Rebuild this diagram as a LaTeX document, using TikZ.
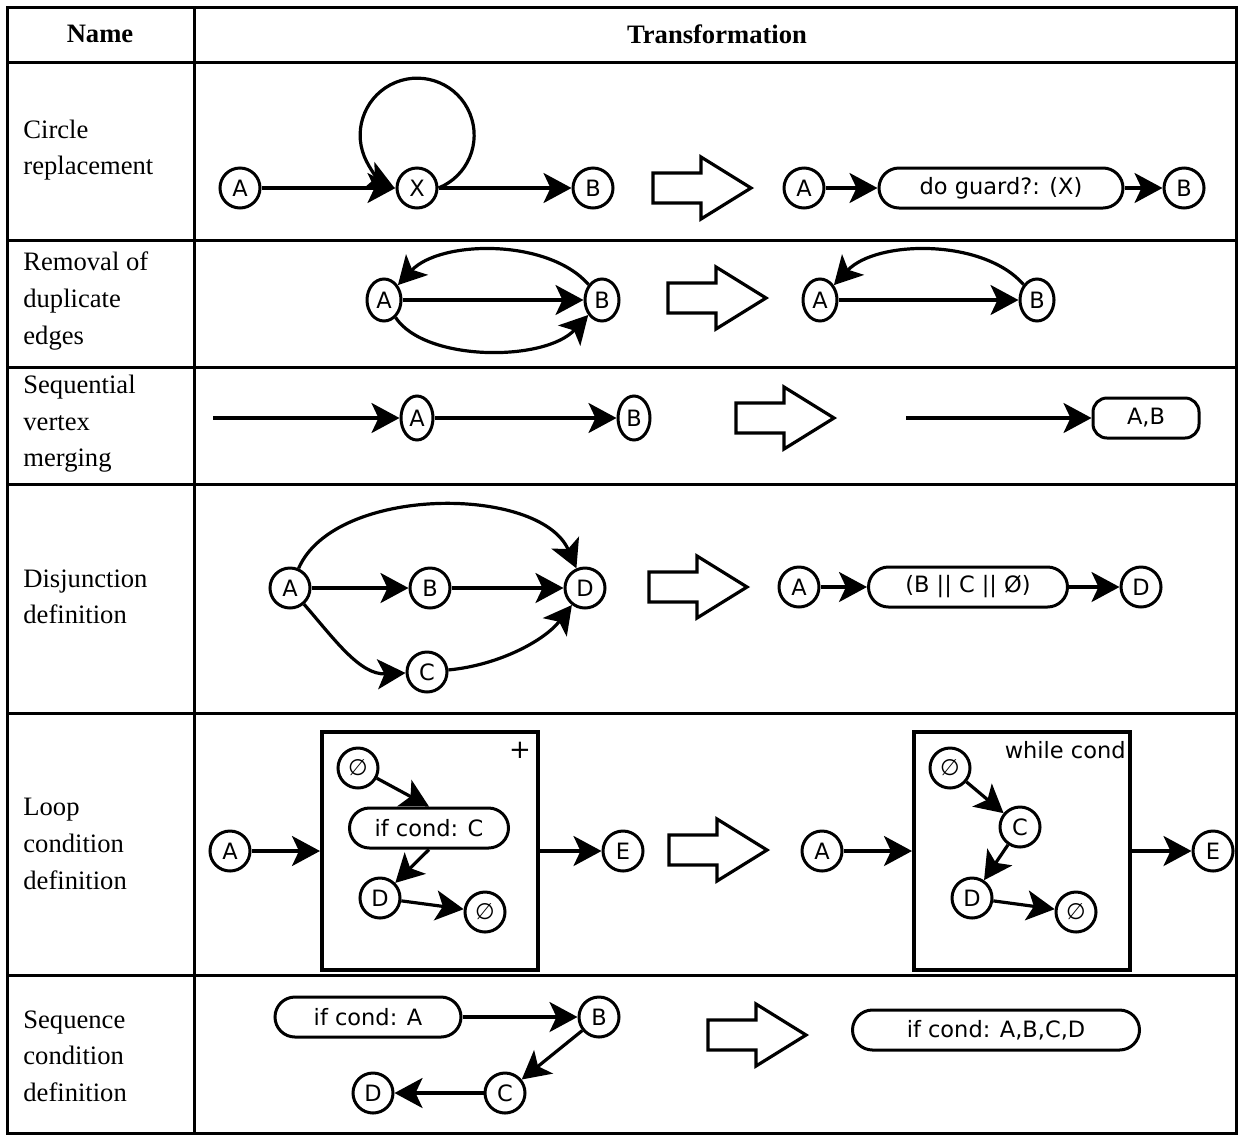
\documentclass[tikz,border=0pt]{standalone}
\usepackage{fontspec}
\setmainfont{Liberation Serif}
\newfontfamily\diafont{DejaVu Sans}
\usetikzlibrary{arrows.meta,positioning,calc,shapes.geometric}
\def\rewrite(#1){\draw[hollow] (#1) ++(-48,-15) -- ++(48,0) -- ++(0,-16) -- ++(50,31) -- ++(-50,31) -- ++(0,-16) -- ++(-48,0) -- cycle;}
\tikzset{
  vertex/.style={circle,draw,line width=1.5pt,minimum size=20pt,inner sep=0pt,font=\diafont\fontsize{11.25}{13}\selectfont},
  oval/.style={vertex,ellipse,minimum width=17pt,minimum height=21pt},
  pill/.style={rectangle,rounded corners=10pt,draw,line width=1.5pt,minimum height=20pt,inner sep=0pt,font=\diafont\fontsize{11.25}{13}\selectfont},
  link/.style={line width=1.6pt,-{Stealth[length=14pt,width=15pt,inset=3.5pt]}},
  hollow/.style={line width=1.6pt,line join=miter},
  rule/.style={line width=1.5pt},
  cell/.style={anchor=west,align=left,inner sep=0pt,font=\fontsize{13.3}{18.3}\selectfont},
  head/.style={inner sep=0pt,font=\bfseries\fontsize{13.3}{18.3}\selectfont},
  loopbox/.style={draw,line width=2pt,minimum width=108pt,minimum height=119pt,inner sep=0pt},
  tag/.style={inner sep=0pt,font=\diafont\fontsize{11.25}{13}\selectfont}
}

\begin{document}
\begin{tikzpicture}[x=0.5pt,y=-0.5pt]
    \useasboundingbox (0,0) rectangle (1241,1136);
    \fill[white] (0,0) rectangle (1241,1136);
    \draw[rule] (7,7) rectangle (1236,1133);
    \draw[rule] (194,7) -- (194,1133);
    \foreach \y in {62,240,367,484,713,975} \draw[rule] (7,\y) -- (1236,\y);
    \node[head] (hname) at (100,34) {Name};
    \node[head] (htrans) at (717,34) {Transformation};
    \node[cell] (n1) at (23,150) {Circle\\replacement};
    \node[cell] (n2) at (23,301) {Removal of\\duplicate\\edges};
    \node[cell] (n3) at (23,424) {Sequential\\vertex\\merging};
    \node[cell] (n4) at (23,597) {Disjunction\\definition};
    \node[cell] (n5) at (23,844) {Loop\\condition\\definition};
    \node[cell] (n6) at (23,1056) {Sequence\\condition\\definition};

    \node[vertex] (a1) at (240,188) {A};
    \node[vertex] (x1) at (417,188) {X};
    \node[vertex] (b1) at (593,188) {B};
    \draw[link] (a1) -- (x1);
    \draw[link] (x1) -- (b1);
    \draw[link] (x1.east) arc[start angle=-68, end angle=246, radius=28.5pt];
    \rewrite(701,188)
    \node[vertex] (a1r) at (804,188) {A};
    \node[pill,minimum width=122pt] (g1) at (1001,188) {do guard?: (X)};
    \node[vertex] (b1r) at (1184,188) {B};
    \draw[link] (a1r) -- (g1);
    \draw[link] (g1) -- (b1r);

    \node[oval] (a2) at (384,300) {A};
    \node[oval] (b2) at (602,300) {B};
    \draw[link] (a2) -- (b2);
    \draw[link] (b2) .. controls (548,238) and (440,240) .. (a2);
    \draw[link] (a2) .. controls (425,362) and (545,362) .. (b2);
    \rewrite(716,298)
    \node[oval] (a2r) at (820,300) {A};
    \node[oval] (b2r) at (1037,300) {B};
    \draw[link] (a2r) -- (b2r);
    \draw[link] (b2r) .. controls (983,238) and (876,240) .. (a2r);

    \coordinate (in3) at (213,418);
    \node[oval,minimum width=16pt,minimum height=22pt] (a3) at (417,418) {A};
    \node[oval,minimum width=16pt,minimum height=22pt] (b3) at (634,418) {B};
    \draw[link] (in3) -- (a3);
    \draw[link] (a3) -- (b3);
    \rewrite(784,418)
    \coordinate (in3r) at (906,418);
    \node[pill,rounded corners=7pt,minimum width=53pt] (ab3) at (1146,418) {A,B};
    \draw[link] (in3r) -- (ab3);

    \node[vertex] (a4) at (290,588) {A};
    \node[vertex] (b4) at (430,588) {B};
    \node[vertex] (c4) at (427,672) {C};
    \node[vertex] (d4) at (585,588) {D};
    \draw[link] (a4) -- (b4);
    \draw[link] (b4) -- (d4);
    \draw[link] (a4) .. controls (335,485) and (540,485) .. (d4);
    \draw[link] (a4) .. controls (335,640) and (360,675) .. (c4);
    \draw[link] (c4) .. controls (500,665) and (545,640) .. (d4);
    \rewrite(697,587)
    \node[vertex] (a4r) at (799,587) {A};
    \node[pill,minimum width=99.5pt] (or4) at (968,587) {(B || C || Ø)};
    \node[vertex] (d4r) at (1141,587) {D};
    \draw[link] (a4r) -- (or4);
    \draw[link] (or4) -- (d4r);

    \node[vertex] (a5) at (230,851) {A};
    \node[loopbox] (box5) at (430,851) {};
    \node[tag,font=\diafont\fontsize{13}{15}\selectfont] (plus5) at ($(box5.north east)+(-20,20)$) {+};
    \node[vertex] (s5) at (358,768) {∅};
    \node[pill,minimum width=79.5pt] (if5) at (429,828) {if cond: C};
    \node[vertex] (d5) at (380,898) {D};
    \node[vertex] (t5) at (485,912) {∅};
    \node[vertex] (e5) at (623,851) {E};
    \draw[link] (a5) -- (box5);
    \draw[link] (box5) -- (e5);
    \draw[link] (s5) -- (if5.north);
    \draw[link] (if5.south) -- (d5);
    \draw[link] (d5) -- (t5);
    \rewrite(717,850)
    \node[vertex] (a5r) at (822,851) {A};
    \node[loopbox] (box5r) at (1022,851) {};
    \node[tag,anchor=east] (while5) at (1126,750) {while cond};
    \node[vertex] (s5r) at (950,768) {∅};
    \node[vertex] (c5r) at (1020,827) {C};
    \node[vertex] (d5r) at (972,898) {D};
    \node[vertex] (t5r) at (1076,912) {∅};
    \node[vertex] (e5r) at (1213,851) {E};
    \draw[link] (a5r) -- (box5r);
    \draw[link] (box5r) -- (e5r);
    \draw[link] (s5r) -- (c5r);
    \draw[link] (c5r) -- (d5r);
    \draw[link] (d5r) -- (t5r);

    \node[pill,minimum width=93pt] (if6) at (368,1017) {if cond: A};
    \node[vertex] (b6) at (599,1017) {B};
    \node[vertex] (c6) at (505,1093) {C};
    \node[vertex] (d6) at (373,1093) {D};
    \draw[link] (if6) -- (b6);
    \draw[link] (b6) -- (c6);
    \draw[link] (c6) -- (d6);
    \rewrite(756,1035)
    \node[pill,minimum width=143.5pt] (if6r) at (996,1030) {if cond: A,B,C,D};
\end{tikzpicture}
\end{document}
